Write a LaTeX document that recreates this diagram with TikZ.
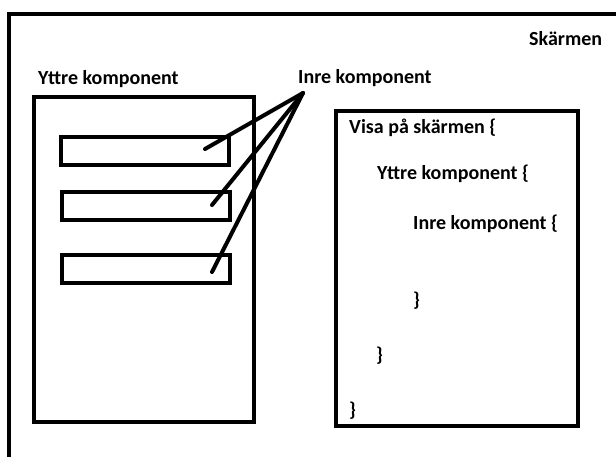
\documentclass[tikz,border=0pt]{standalone}
\usepackage{fontspec}
\setmainfont{Carlito}
\usepackage{tikz}
\usetikzlibrary{positioning}
\tikzset{
  screenbox/.style={rectangle, draw=black, line width=4pt, inner sep=0pt,
    minimum width=631pt, minimum height=466pt},
  outerbox/.style={rectangle, draw=black, line width=4pt, inner sep=0pt,
    minimum width=220pt, minimum height=325pt},
  innerbox/.style={rectangle, draw=black, line width=4pt, inner sep=0pt,
    minimum width=168pt, minimum height=28pt},
  codebox/.style={rectangle, draw=black, line width=4.5pt, inner sep=0pt,
    minimum width=242pt, minimum height=315pt},
  label/.style={anchor=base west, inner sep=0pt,
    font=\fontsize{20}{24}\selectfont\bfseries},
  pointer/.style={line width=4pt, line cap=round, color=black}
}
\begin{document}
\begin{tikzpicture}[x=1pt, y=-1pt]
  \useasboundingbox (0,0) rectangle (616,456);
  \clip (0,0) rectangle (616,456);
  \fill[white] (0,0) rectangle (616,456);

  \node[screenbox] (screen) at (324.5,247) {};
  \node[label] (screenlbl) at (529,45) {Skärmen};

  \node[outerbox] (outer) at (144,259.5) {};
  \node[label] (outerlbl) at (38,84) {Yttre komponent};
  \node[innerbox] (box1) at (145,150.5) {};
  \node[innerbox] (box2) at (145.5,206) {};
  \node[innerbox] (box3) at (145.5,268.5) {};

  \node[label] (innerlbl) at (298,83) {Inre komponent};
  \coordinate (hub) at (303,93);
  \coordinate (p1) at (205,149);
  \coordinate (p2) at (212,205);
  \coordinate (p3) at (212,272);
  \draw[pointer] (hub) -- (p1);
  \draw[pointer] (hub) -- (p2);
  \draw[pointer] (hub) -- (p3);

  \node[codebox] (code) at (457,268.5) {};
  \node[label] (show) at (349,133.5) {Visa på skärmen \{};
  \node[label] (outercode) at (377,179) {Yttre komponent \{};
  \node[label] (innercode) at (413,229.5) {Inre komponent \{};
  \node[label] (innerend) at (413,306.5) {\}};
  \node[label] (outerend) at (376,361.5) {\}};
  \node[label] (showend) at (349,416.5) {\}};
\end{tikzpicture}
\end{document}
